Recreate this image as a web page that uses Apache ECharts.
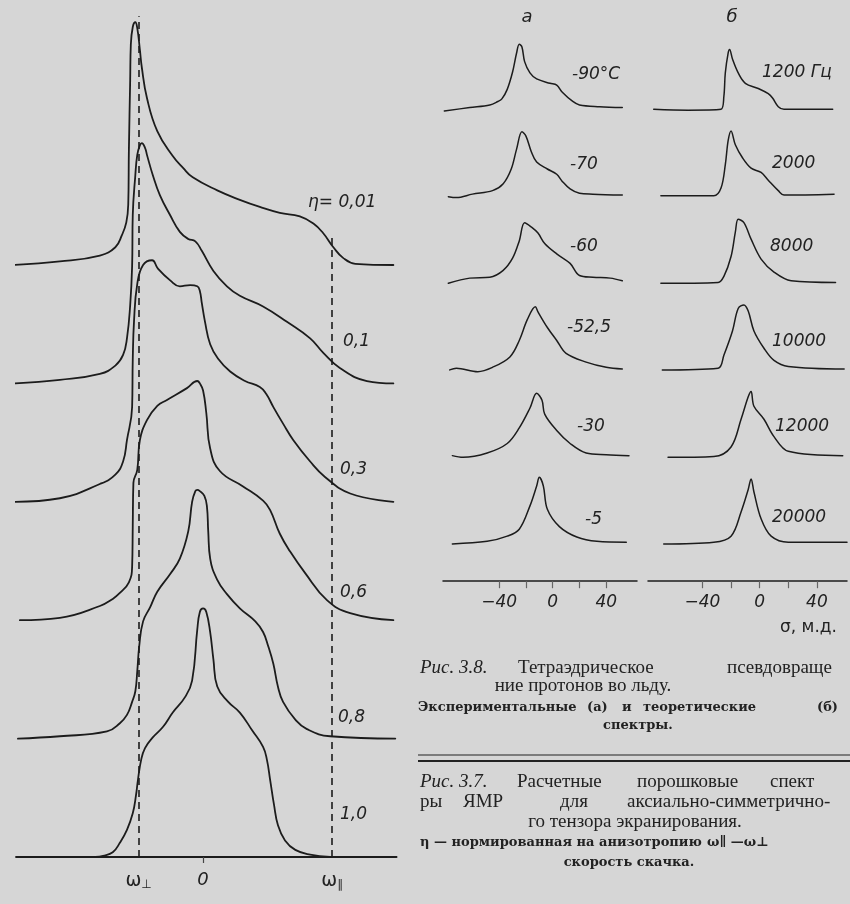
<!DOCTYPE html>
<html><head><meta charset="utf-8">
<script src="https://cdn.jsdelivr.net/npm/echarts@6/dist/echarts.min.js"></script>
<style>html,body{margin:0;padding:0;background:#d6d6d6}#c{width:850px;height:904px}</style>
</head><body><div id="c"></div>
<script>
// ---------- DATA: left panel (Рис. 3.7), x in ω units (ω⊥=-1, ω∥=2), intensity in baseline-spacing units
const etaLabels = ['η= 0,01', '0,1', '0,3', '0,6', '0,8', '1,0'];
const etaOffsets = [5, 4, 3, 2, 1, 0];
const eta001 = [[-2.96,0],[-2.22,0.03],[-1.60,0.08],[-1.36,0.15],[-1.26,0.25],[-1.19,0.36],[-1.16,0.51],[-1.15,0.97],[-1.13,1.56],[-1.12,1.86],[-1.09,2.01],[-1.05,2.05],[-1.02,2.0],[-0.98,1.82],[-0.95,1.67],[-0.87,1.41],[-0.71,1.13],[-0.47,0.92],[-0.31,0.82],[-0.16,0.74],[0.22,0.63],[0.57,0.55],[0.88,0.49],[1.19,0.44],[1.50,0.41],[1.71,0.35],[1.86,0.27],[2.02,0.15],[2.17,0.06],[2.36,0.01],[2.95,0]];
const eta01 = [[-2.91,0],[-2.22,0.03],[-1.60,0.08],[-1.36,0.15],[-1.24,0.24],[-1.18,0.38],[-1.13,0.66],[-1.10,0.99],[-1.09,1.42],[-1.05,1.76],[-1.02,1.93],[-0.98,2.01],[-0.95,2.03],[-0.90,1.99],[-0.87,1.93],[-0.78,1.76],[-0.67,1.59],[-0.51,1.42],[-0.36,1.28],[-0.23,1.22],[-0.12,1.20],[-0.02,1.12],[0.16,0.95],[0.37,0.82],[0.57,0.74],[0.93,0.65],[1.30,0.52],[1.66,0.38],[1.86,0.26],[2.12,0.13],[2.54,0.02],[2.95,0]];
const eta03 = [[-2.91,0],[-2.22,0.03],[-1.60,0.15],[-1.36,0.23],[-1.24,0.34],[-1.18,0.52],[-1.10,0.80],[-1.09,1.20],[-1.07,1.53],[-1.02,1.84],[-0.93,2.0],[-0.79,2.04],[-0.70,1.97],[-0.51,1.87],[-0.36,1.82],[-0.20,1.83],[-0.09,1.82],[-0.05,1.78],[-0.02,1.68],[0.03,1.52],[0.11,1.33],[0.23,1.21],[0.42,1.10],[0.65,1.02],[0.88,0.97],[0.98,0.91],[1.09,0.80],[1.24,0.66],[1.40,0.52],[1.66,0.34],[1.89,0.21],[2.28,0.07],[2.95,0]];
const eta06 = [[-2.84,0],[-2.22,0.02],[-1.60,0.12],[-1.40,0.18],[-1.29,0.23],[-1.15,0.32],[-1.10,0.45],[-1.09,0.8],[-1.08,1.16],[-1.02,1.27],[-0.98,1.52],[-0.87,1.69],[-0.71,1.81],[-0.56,1.86],[-0.25,1.96],[-0.09,2.02],[-0.05,2.00],[0,1.94],[0.05,1.75],[0.11,1.45],[0.26,1.26],[0.62,1.13],[0.93,1.01],[1.04,0.93],[1.19,0.73],[1.35,0.58],[1.58,0.40],[1.92,0.17],[2.28,0.06],[2.95,0]];
const eta08 = [[-2.87,0],[-2.22,0.02],[-1.49,0.06],[-1.29,0.13],[-1.18,0.20],[-1.10,0.31],[-1.05,0.40],[-1.02,0.57],[-0.99,0.78],[-0.93,0.99],[-0.82,1.11],[-0.71,1.24],[-0.51,1.39],[-0.36,1.52],[-0.23,1.75],[-0.17,2.00],[-0.12,2.09],[-0.09,2.10],[-0.05,2.09],[0.02,2.05],[0.06,1.96],[0.08,1.75],[0.11,1.52],[0.22,1.34],[0.37,1.22],[0.57,1.10],[0.81,0.99],[0.93,0.90],[1.01,0.78],[1.09,0.63],[1.16,0.44],[1.24,0.31],[1.43,0.16],[1.61,0.08],[1.97,0.02],[2.98,0]];
const eta10 = [[-1.67,0],[-1.55,0.01],[-1.40,0.04],[-1.29,0.12],[-1.18,0.23],[-1.09,0.37],[-1.04,0.52],[-1.01,0.65],[-0.96,0.82],[-0.90,0.92],[-0.78,1.01],[-0.62,1.10],[-0.47,1.22],[-0.28,1.35],[-0.17,1.49],[-0.09,1.92],[-0.05,2.07],[0,2.10],[0.05,2.07],[0.11,1.90],[0.16,1.67],[0.22,1.44],[0.39,1.31],[0.57,1.22],[0.76,1.07],[0.93,0.93],[0.99,0.82],[1.04,0.65],[1.10,0.44],[1.16,0.27],[1.27,0.14],[1.43,0.06],[1.66,0.02],[1.97,0]];
const etaCurves = [eta001, eta01, eta03, eta06, eta08, eta10];
const leftTickValues = [-1, 0, 2];
const leftTickLabels = ['ω⊥', '0', 'ω∥'];
const dashedX = [-1, 2];          // ω⊥, ω∥
const dashedTop = [7.1, 5.27];    // top ends of the dashed guides (data units)

// ---------- DATA: right panel (Рис. 3.8), x in ppm (σ, м.д.)
const colATitle = 'а', colBTitle = 'б';
const tempLabels = ['-90°C', '-70', '-60', '-52,5', '-30', '-5'];
const freqLabels = ['1200 Гц', '2000', '8000', '10000', '12000', '20000'];
const specOffsets = [5, 4, 3, 2, 1, 0];
const specA1 = [[-81,-0.02],[-62,0.02],[-47,0.05],[-41,0.09],[-38,0.12],[-34,0.23],[-30,0.43],[-27,0.65],[-25,0.75],[-23,0.72],[-21,0.55],[-17,0.42],[-12,0.35],[-2,0.30],[3,0.28],[7,0.20],[15,0.09],[20,0.05],[35,0.03],[52,0.02]];
const specA2 = [[-78,-0.01],[-72,-0.02],[-60,0.02],[-45,0.06],[-37,0.14],[-31,0.31],[-27,0.54],[-23,0.74],[-20,0.69],[-16,0.51],[-12,0.39],[-4,0.31],[3,0.25],[7,0.17],[13,0.08],[20,0.03],[30,0.02],[52,0.01]];
const specA3 = [[-78,-0.01],[-62,0.05],[-47,0.06],[-37,0.14],[-30,0.28],[-25,0.48],[-21,0.69],[-16,0.64],[-11,0.57],[-6,0.45],[3,0.33],[13,0.22],[20,0.08],[30,0.06],[43,0.05],[52,0.02]];
const specA4 = [[-77,-0.01],[-72,0.01],[-56,-0.03],[-45,0.02],[-32,0.14],[-25,0.33],[-19,0.57],[-13,0.72],[-11,0.66],[-4,0.48],[3,0.33],[10,0.18],[25,0.08],[40,0.02],[52,0]];
const specA5 = [[-75,0],[-67,-0.02],[-49,0.03],[-34,0.14],[-25,0.32],[-17,0.55],[-12,0.72],[-8,0.64],[-6,0.48],[3,0.29],[13,0.14],[25,0.03],[40,0.01],[57,0]];
const specA6 = [[-75,-0.02],[-49,0.01],[-34,0.07],[-25,0.15],[-17,0.42],[-12,0.65],[-10,0.75],[-7,0.65],[-4,0.38],[5,0.18],[18,0.06],[33,0.01],[55,0]];
const specB1 = [[-74,0],[-50,-0.01],[-27,0],[-25,0.15],[-24,0.42],[-22,0.65],[-21,0.69],[-19,0.58],[-15,0.42],[-10,0.30],[-1,0.24],[6,0.18],[9,0.13],[13,0.03],[17,0],[51,0]];
const specB2 = [[-69,0],[-32,0],[-27,0.09],[-24,0.36],[-22,0.64],[-20,0.75],[-17,0.59],[-12,0.44],[-6,0.32],[1,0.27],[6,0.18],[13,0.06],[17,0.01],[52,0.02]];
const specB3 = [[-69,-0.01],[-29,0],[-25,0.07],[-20,0.30],[-17,0.58],[-15,0.73],[-11,0.69],[-6,0.50],[1,0.27],[10,0.12],[22,0.02],[53,0]];
const specB4 = [[-68,-0.01],[-29,0.01],[-25,0.16],[-19,0.44],[-15,0.70],[-11,0.74],[-8,0.67],[-4,0.44],[3,0.24],[10,0.10],[20,0.03],[59,0]];
const specB5 = [[-64,-0.02],[-32,-0.01],[-20,0.10],[-13,0.42],[-8,0.68],[-6,0.74],[-4,0.57],[3,0.42],[10,0.22],[20,0.05],[58,0]];
const specB6 = [[-67,-0.02],[-32,0],[-20,0.07],[-13,0.35],[-8,0.61],[-6,0.73],[-4,0.58],[1,0.27],[8,0.07],[20,0],[61,0]];
const specA = [specA1, specA2, specA3, specA4, specA5, specA6];
const specB = [specB1, specB2, specB3, specB4, specB5, specB6];
const rightTickValues = [-40, -20, 0, 20, 40];
const rightLabelValues = [-40, 0, 40];
const rightAxisName = 'σ, м.д.';

// ---------- build
const INK = '#1c1c1c';
const chart = echarts.init(document.getElementById('c'), null, {renderer: 'canvas'});
const lbl = 'italic 17px "DejaVu Sans"';
const serif = '"Liberation Serif"';

function lineSeries(data, off, xi, yi, w, sm) {
  return {
    type: 'line', xAxisIndex: xi, yAxisIndex: yi, silent: true,
    symbol: 'none', smooth: sm,
    lineStyle: {color: INK, width: w, join: 'round', cap: 'round'},
    data: data.map(p => [p[0], p[1] + off])
  };
}

const series = [];
etaCurves.forEach((c, i) => series.push(lineSeries(c, etaOffsets[i], 0, 0, 1.8, 0.45)));
series[0].markLine = {
  silent: true, symbol: 'none', label: {show: false},
  lineStyle: {color: INK, type: [7, 5], width: 1.6},
  data: dashedX.map((x, i) => [{coord: [x, 0]}, {coord: [x, dashedTop[i]]}])
};
specA.forEach((c, i) => series.push(lineSeries(c, specOffsets[i], 1, 1, 1.5, 0.35)));
specB.forEach((c, i) => series.push(lineSeries(c, specOffsets[i], 2, 2, 1.5, 0.35)));

function T(x, y, text, font, align, extra) {
  return Object.assign({type: 'text', x: x, y: y, silent: true,
    style: {text: text, font: font, fill: '#222', align: align || 'left', verticalAlign: 'middle',
            textAlign: align || 'left', textVerticalAlign: 'middle'}}, extra || {});
}

const graphics = [];
const etaLabelPos = [[308, 203], [343, 342], [340, 470], [340, 593], [338, 718], [340, 815]];
etaLabels.forEach((t, i) => graphics.push(T(etaLabelPos[i][0], etaLabelPos[i][1], t, lbl)));
graphics.push(T(527, 17, colATitle, 'italic 18px "DejaVu Sans"', 'center'));
graphics.push(T(732, 17, colBTitle, 'italic 18px "DejaVu Sans"', 'center'));
const tempPos = [[572, 75], [570, 165], [570, 247], [567, 328], [577, 427], [585, 520]];
tempLabels.forEach((t, i) => graphics.push(T(tempPos[i][0], tempPos[i][1], t, lbl)));
const freqPos = [[762, 73], [772, 164], [770, 247], [772, 342], [775, 427], [772, 518]];
freqLabels.forEach((t, i) => graphics.push(T(freqPos[i][0], freqPos[i][1], t, lbl)));
graphics.push(T(780, 628, rightAxisName, '17px "DejaVu Sans"'));

// captions
const capMain = '19px ' + serif, capIt = 'italic 19px ' + serif, capSmall = 'bold 13px "DejaVu Serif"';
const captionWords = [
  [420, 668, 'Рис. 3.8.', capIt], [518, 668, 'Тетраэдрическое', capMain], [727, 668, 'псевдовраще', capMain],
  [583, 686, 'ние протонов во льду.', capMain, 'center'],
  [418, 708, 'Экспериментальные', capSmall], [587, 708, '(а)', capSmall], [622, 708, 'и', capSmall],
  [643, 708, 'теоретические', capSmall], [817, 708, '(б)', capSmall],
  [638, 726, 'спектры.', capSmall, 'center'],
  [420, 782, 'Рис. 3.7.', capIt], [517, 782, 'Расчетные', capMain], [637, 782, 'порошковые', capMain], [770, 782, 'спект', capMain],
  [420, 802, 'ры', capMain], [463, 802, 'ЯМР', capMain], [560, 802, 'для', capMain], [627, 802, 'аксиально-симметрично-', capMain],
  [635, 822, 'го тензора экранирования.', capMain, 'center'],
  [420, 843, 'η — нормированная на анизотропию', capSmall], [707, 843, 'ω∥ —ω⊥', capSmall],
  [629, 863, 'скорость скачка.', capSmall, 'center']
];
captionWords.forEach(w => graphics.push(T(w[0], w[1], w[2], w[3], w[4])));
graphics.push({type: 'line', silent: true, shape: {x1: 418, y1: 755, x2: 850, y2: 755}, style: {stroke: '#222', lineWidth: 1.2}});
graphics.push({type: 'line', silent: true, shape: {x1: 418, y1: 761, x2: 850, y2: 761}, style: {stroke: '#222', lineWidth: 2}});

const axisLbl = {color: '#222', fontFamily: 'DejaVu Sans', fontStyle: 'italic', fontSize: 17};
const rightX = (min, max, gi) => ({
  type: 'value', min: min, max: max, gridIndex: gi,
  axisLine: {show: true, onZero: false, lineStyle: {color: INK, width: 1.5}},
  axisTick: {show: true, customValues: rightTickValues, length: 7, lineStyle: {color: '#666', width: 1.2}},
  axisLabel: Object.assign({customValues: rightLabelValues, margin: 13,
    formatter: v => (v < 0 ? '−' + Math.abs(v) : String(v))}, axisLbl),
  splitLine: {show: false}
});

const option = {
  backgroundColor: '#d6d6d6',
  animation: false,
  grid: [
    {left: 16, width: 380.6, top: 4.5, height: 852.5},
    {left: 443, width: 194, top: 27, height: 554.2},
    {left: 648, width: 199, top: 27, height: 554.2}
  ],
  xAxis: [
    {type: 'value', gridIndex: 0, min: -2.9, max: 3.0,
     axisLine: {show: true, onZero: false, lineStyle: {color: INK, width: 1.8}},
     axisTick: {show: true, customValues: [0], length: 6, lineStyle: {color: '#444', width: 1.2}},
     axisLabel: {customValues: leftTickValues, margin: 14, color: '#222',
       formatter: v => {
         const t = leftTickLabels[leftTickValues.indexOf(v)];
         return t.length > 1 ? '{w|' + t[0] + '}{s|' + t.slice(1) + '}' : '{z|' + t + '}';
       },
       rich: {
         w: {fontFamily: 'DejaVu Sans', fontSize: 19, color: '#222'},
         s: {fontFamily: 'DejaVu Sans', fontSize: 12, color: '#222', padding: [8, 0, 0, 0]},
         z: {fontFamily: 'DejaVu Sans', fontStyle: 'italic', fontSize: 18, color: '#222'}
       }},
     splitLine: {show: false}},
    rightX(-82, 63, 1), rightX(-78, 61, 2)
  ],
  yAxis: [
    {type: 'value', gridIndex: 0, min: 0, max: 7.2, show: false},
    {type: 'value', gridIndex: 1, min: -0.45, max: 5.95, show: false},
    {type: 'value', gridIndex: 2, min: -0.45, max: 5.95, show: false}
  ],
  series: series,
  graphic: graphics
};
chart.setOption(option);
</script>
</body></html>
